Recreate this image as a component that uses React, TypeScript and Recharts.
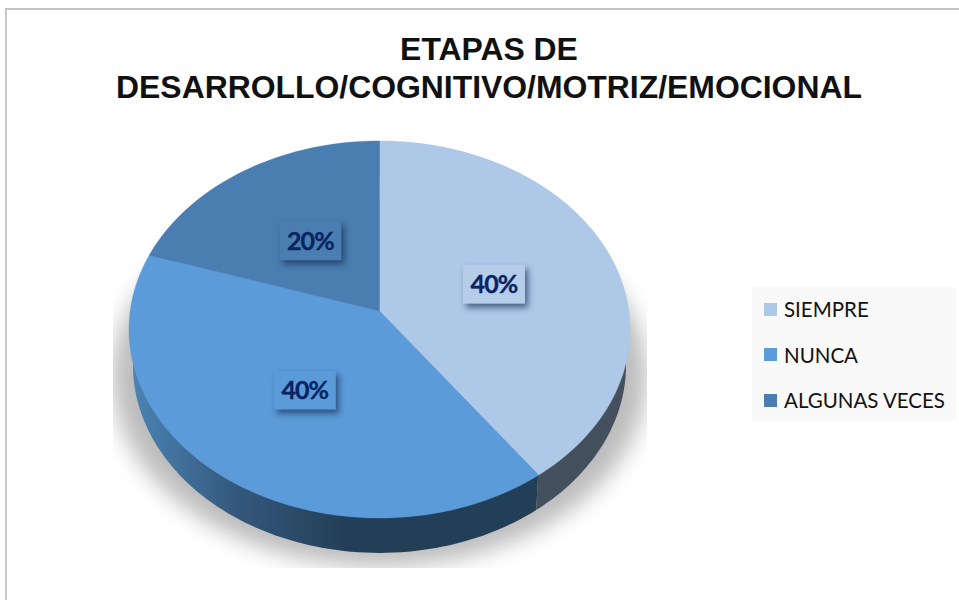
import React from 'react';
import { PieChart, Pie, Cell, Legend } from 'recharts';

const titleLines = ['ETAPAS DE', 'DESARROLLO/COGNITIVO/MOTRIZ/EMOCIONAL'];
const categories = ['SIEMPRE', 'NUNCA', 'ALGUNAS VECES'];
const seriesValues = [40, 40, 20];
const sectorColors = ['#aec8e8', '#5b9bd9', '#4a7eb0'];
const wallColors = ['#45505e', 'url(#wallGrad)', '#2f5678'];
const labelBoxColors = ['#b6cdea', '#5b9bd9', '#4a7eb0'];

const data = categories.map((name, i) => ({ name, value: seriesValues[i] }));
const shadowData = [{ name: 'shadow', value: 100 }];

const RAD = Math.PI / 180;
const Y_RATIO = 186.7 / 249.3;
const PERSP = -0.098;

// perspective projection of a point on the pie's disc
function project(cx: number, cy: number, r: number, angle: number, t = 1) {
  const u = Math.cos(-angle * RAD) * t;
  const v = Math.sin(-angle * RAD) * t;
  const d = 1 + PERSP * v;
  return { x: cx + (r * u) / d, y: cy + (r * Y_RATIO * v) / d };
}

function arcPoints(cx: number, cy: number, r: number, a0: number, a1: number) {
  const n = Math.max(2, Math.ceil(Math.abs(a1 - a0) / 1.5));
  const pts = [];
  for (let i = 0; i <= n; i++) pts.push(project(cx, cy, r, a0 + ((a1 - a0) * i) / n));
  return pts;
}

const toPath = (pts: { x: number; y: number }[]) =>
  pts.map((p, i) => `${i ? 'L' : 'M'}${p.x.toFixed(2)},${p.y.toFixed(2)}`).join(' ');

function TopFace(props: any) {
  const { cx, cy, outerRadius, startAngle, endAngle, fill } = props;
  const arc = arcPoints(cx, cy, outerRadius, startAngle, endAngle);
  return <path d={`M${cx},${cy} ${toPath(arc).replace('M', 'L')} Z`} fill={fill} stroke={fill} strokeWidth={0.4} />;
}

const DEPTH = 35.5;
function WallFace(props: any) {
  const { cx, cy, outerRadius, startAngle, endAngle, fill } = props;
  const top = arcPoints(cx, cy, outerRadius, startAngle, endAngle);
  const bottom = arcPoints(cx, cy, outerRadius, startAngle, endAngle)
    .map((p) => ({ x: cx + (p.x - cx) * 0.987, y: p.y + DEPTH }))
    .reverse();
  return <path d={`${toPath(top)} ${toPath(bottom).replace('M', 'L')} Z`} fill={fill} />;
}

function ShadowFace(props: any) {
  const { cx, cy, outerRadius } = props;
  return (
    <g clipPath="url(#shadowClip)">
      <ellipse
        cx={cx}
        cy={cy + 66}
        rx={outerRadius + 18}
        ry={outerRadius * 0.76}
        fill="#bcbcbc"
        style={{ filter: 'blur(11px)' }}
      />
    </g>
  );
}

function renderLabel(props: any) {
  const { cx, cy, outerRadius, midAngle, percent, index } = props;
  const p = project(cx, cy, outerRadius, midAngle, 0.49);
  const w = 62;
  const h = 39;
  const yShift = index === 1 ? 2 : 1;
  return (
    <g>
      <rect
        x={p.x - w / 2}
        y={p.y - h / 2 + yShift}
        width={w}
        height={h}
        fill={labelBoxColors[index]}
        style={{ filter: 'drop-shadow(3px 4px 3px rgba(20,40,80,0.65))' }}
      />
      <text
        x={p.x}
        y={p.y + 9 + yShift}
        textAnchor="middle"
        fontFamily="Lato, sans-serif"
        fontWeight={700}
        fontSize={25}
        letterSpacing={-0.9}
        stroke="#0a2463"
        strokeWidth={0.35}
        fill="#0a2463"
      >
        {`${Math.round(percent * 100)}%`}
      </text>
    </g>
  );
}

function LegendContent() {
  return (
    <div style={{ width: 204, height: 134, background: '#f9f9f9', position: 'relative' }}>
      {categories.map((name, i) => (
        <div
          key={name}
          style={{ position: 'absolute', left: 12, top: 10 + i * 45.5, height: 24, display: 'flex', alignItems: 'center' }}
        >
          <span style={{ display: 'inline-block', width: 13, height: 13, background: sectorColors[i], marginRight: 7 }} />
          <span style={{ fontFamily: 'Lato, sans-serif', fontSize: 20.5, color: '#111', whiteSpace: 'nowrap' }}>{name}</span>
        </div>
      ))}
    </div>
  );
}

export default function App() {
  return (
    <div style={{ position: 'absolute', left: 0, top: 0, width: 959, height: 600, overflow: 'hidden', background: '#fff' }}>
      <svg width={0} height={0} style={{ position: 'absolute' }}>
        <defs>
          <linearGradient id="wallGrad" gradientUnits="userSpaceOnUse" x1={129} x2={345} y1={0} y2={0}>
            <stop offset="0" stopColor="#4c85b5" />
            <stop offset="0.5" stopColor="#34587c" />
            <stop offset="1" stopColor="#233f57" />
          </linearGradient>
          <clipPath id="shadowClip">
            <rect x={113} y={200} width={534} height={368} />
          </clipPath>
        </defs>
      </svg>
      <div
        style={{
          position: 'absolute',
          left: 5,
          top: 8,
          right: 0,
          bottom: 0,
          borderLeft: '2px solid #c9c9c9',
          borderTop: '2px solid #c4c4c4',
        }}
      />
      <div
        style={{
          position: 'absolute',
          left: 0,
          top: 30,
          width: 978,
          textAlign: 'center',
          fontFamily: '"Liberation Sans", Arial, sans-serif',
          fontWeight: 700,
          fontSize: 31.9,
          lineHeight: '38px',
          color: '#111',
        }}
      >
        {titleLines.map((l) => (
          <div key={l}>{l}</div>
        ))}
      </div>
      <div style={{ position: 'absolute', left: 0, top: 0 }}>
        <PieChart width={959} height={600} margin={{ top: 0, right: 0, bottom: 0, left: 0 }}>
          <Pie
            data={shadowData}
            dataKey="value"
            nameKey="name"
            cx={379.5}
            cy={311}
            outerRadius={249.3}
            startAngle={90}
            endAngle={-270}
            stroke="none"
            legendType="none"
            isAnimationActive={false}
            shape={ShadowFace}
          />
          <Pie
            data={data}
            dataKey="value"
            nameKey="name"
            cx={379.5}
            cy={311}
            outerRadius={248.6}
            startAngle={90}
            endAngle={-270}
            stroke="none"
            legendType="none"
            isAnimationActive={false}
            shape={WallFace}
          >
            {wallColors.map((c) => (
              <Cell key={c} fill={c} />
            ))}
          </Pie>
          <Pie
            data={data}
            dataKey="value"
            nameKey="name"
            cx={379.5}
            cy={311}
            outerRadius={249.3}
            startAngle={90}
            endAngle={-270}
            stroke="none"
            isAnimationActive={false}
            shape={TopFace}
            label={renderLabel}
            labelLine={false}
          >
            {sectorColors.map((c) => (
              <Cell key={c} fill={c} />
            ))}
          </Pie>
          <Legend
            content={LegendContent}
            wrapperStyle={{ position: 'absolute', left: 752, top: 287, width: 204, height: 134 }}
          />
        </PieChart>
      </div>
    </div>
  );
}
